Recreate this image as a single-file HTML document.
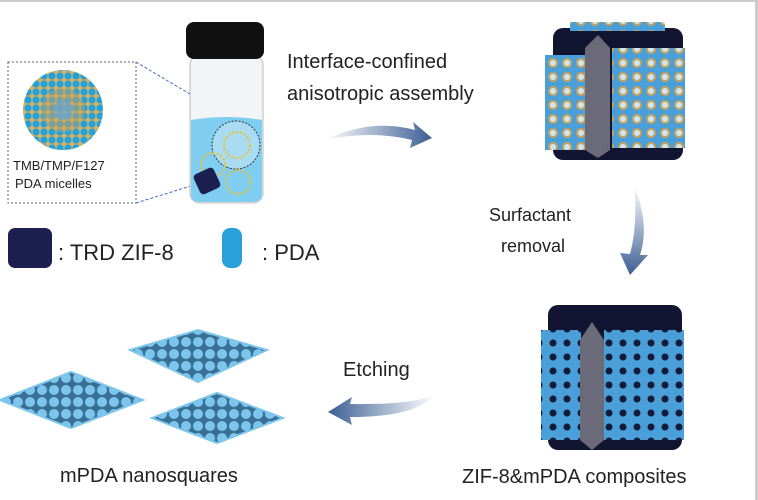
<!DOCTYPE html>
<html><head><style>
body{margin:0;background:#fff}
svg{display:block}
text{font-family:"Liberation Sans",Arial,sans-serif;fill:#222}
</style></head><body>
<svg width="758" height="500" viewBox="0 0 758 500" xmlns="http://www.w3.org/2000/svg">
<defs>
<linearGradient id="ag" x1="0" x2="1"><stop offset="0" stop-color="#fff"/><stop offset="1" stop-color="#3c5f95"/></linearGradient>
<linearGradient id="ag2" x1="0" y1="0" x2="0" y2="1"><stop offset="0" stop-color="#fff"/><stop offset="1" stop-color="#3c5f95"/></linearGradient>
<linearGradient id="ag3" x1="1" x2="0"><stop offset="0" stop-color="#fff"/><stop offset="1" stop-color="#3c5f95"/></linearGradient>
<pattern id="holes" width="14" height="14" patternUnits="userSpaceOnUse"><rect width="14" height="14" fill="#4a9fd8"/><circle cx="7" cy="7" r="3.5" fill="#141a3a"/></pattern>
<pattern id="mic" width="14" height="14" patternUnits="userSpaceOnUse"><rect width="14" height="14" fill="#4a9fd8"/><circle cx="7" cy="7" r="5" fill="#c9a25a"/><circle cx="7" cy="7" r="3" fill="#cde7f5"/></pattern>
<pattern id="sheet" width="12" height="12" patternUnits="userSpaceOnUse"><rect width="12" height="12" fill="#3a6f95"/><circle cx="6" cy="6" r="5" fill="#7cc6ee"/></pattern>
<pattern id="dots" width="8" height="8" patternUnits="userSpaceOnUse"><rect width="8" height="8" fill="#d9b060"/><circle cx="4" cy="4" r="3.6" fill="#22a2dc"/></pattern>
</defs>
<rect x="0" y="0" width="758" height="2" fill="#ccc"/>
<rect x="755" y="0" width="3" height="500" fill="#ccc"/>

<rect x="8" y="62" width="128" height="141" fill="none" stroke="#666" stroke-dasharray="2,2"/>
<line x1="136" y1="62" x2="237" y2="122" stroke="#3b6fc4" stroke-dasharray="3,2"/>
<line x1="136" y1="203" x2="210" y2="180" stroke="#3b6fc4" stroke-dasharray="3,2"/>
<circle cx="63" cy="110" r="40" fill="url(#dots)"/>
<circle cx="63" cy="110" r="22" fill="#c9a25a" opacity="0.5"/>
<circle cx="63" cy="110" r="10" fill="#6aa5d0" opacity="0.7"/>
<text x="13" y="170" font-size="13">TMB/TMP/F127</text>
<text x="15" y="188" font-size="13">PDA micelles</text>

<rect x="190" y="55" width="73" height="148" rx="10" fill="#f2f4f6" stroke="#bbb"/>
<path d="M191 120 Q226 114 262 120 L262 193 Q262 202 252 202 L200 202 Q191 202 191 193Z" fill="#7fcdf0"/>
<rect x="186" y="22" width="78" height="37" rx="8" fill="#111"/>
<circle cx="236" cy="145" r="24" fill="#a9dcf2" stroke="#333" stroke-dasharray="2,1.5"/>
<circle cx="237" cy="145" r="13" fill="none" stroke="#f0c020" stroke-dasharray="2,2" stroke-width="2"/>
<circle cx="213" cy="165" r="12" fill="none" stroke="#f0c020" stroke-dasharray="2,2" stroke-width="2"/>
<circle cx="238" cy="182" r="12" fill="none" stroke="#f0c020" stroke-dasharray="2,2" stroke-width="2"/>
<rect x="196" y="170" width="22" height="22" rx="4" fill="#1c2050" transform="rotate(-25 207 181)"/>

<rect x="8" y="228" width="44" height="40" rx="7" fill="#1c2050"/>
<text x="58" y="260" font-size="22">: TRD ZIF-8</text>
<rect x="222" y="228" width="20" height="40" rx="8" fill="#2aa0d8"/>
<text x="262" y="260" font-size="22">: PDA</text>

<text x="287" y="68" font-size="20">Interface-confined</text>
<text x="287" y="100" font-size="20">anisotropic assembly</text>
<path d="M325 140 Q370 118 415 130 L413 122 L432 138 L410 148 L412 140 Q370 130 325 140Z" fill="url(#ag)"/>

<!-- top cube -->
<rect x="553" y="28" width="130" height="132" rx="10" fill="#121532"/>
<rect x="545" y="55" width="42" height="95" fill="url(#mic)"/>
<rect x="612" y="48" width="73" height="100" fill="url(#mic)"/>
<polygon points="585,48 598,35 610,48 610,150 598,158 585,150" fill="#6a6a78"/>
<rect x="570" y="22" width="95" height="9" fill="url(#mic)"/>

<text x="489" y="221" font-size="18">Surfactant</text>
<text x="501" y="252" font-size="18">removal</text>
<path d="M634 185 Q650 225 640 255 L648 255 L630 275 L620 253 L630 254 Q638 225 634 185Z" fill="url(#ag2)"/>

<!-- bottom cube -->
<rect x="548" y="305" width="134" height="145" rx="10" fill="#121532"/>
<rect x="541" y="330" width="40" height="110" fill="url(#holes)"/>
<rect x="604" y="330" width="80" height="110" fill="url(#holes)"/>
<polygon points="580,340 592,322 604,340 604,440 592,450 580,440" fill="#6a6a78"/>

<text x="462" y="483" font-size="20">ZIF-8&amp;mPDA composites</text>

<text x="343" y="376" font-size="20">Etching</text>
<path d="M435 393 Q420 405 350 404 L352 397 L328 412 L352 425 L350 417 Q420 417 435 393Z" fill="url(#ag3)"/>

<polygon points="130,350 198,330 267,350 198,382" fill="url(#sheet)" stroke="#7cc6ee" stroke-width="2"/>
<polygon points="0,400 71,372 143,400 71,428" fill="url(#sheet)" stroke="#7cc6ee" stroke-width="2"/>
<polygon points="152,418 217,393 283,418 217,443" fill="url(#sheet)" stroke="#7cc6ee" stroke-width="2"/>

<text x="60" y="482" font-size="20">mPDA nanosquares</text>
</svg>
</body></html>
